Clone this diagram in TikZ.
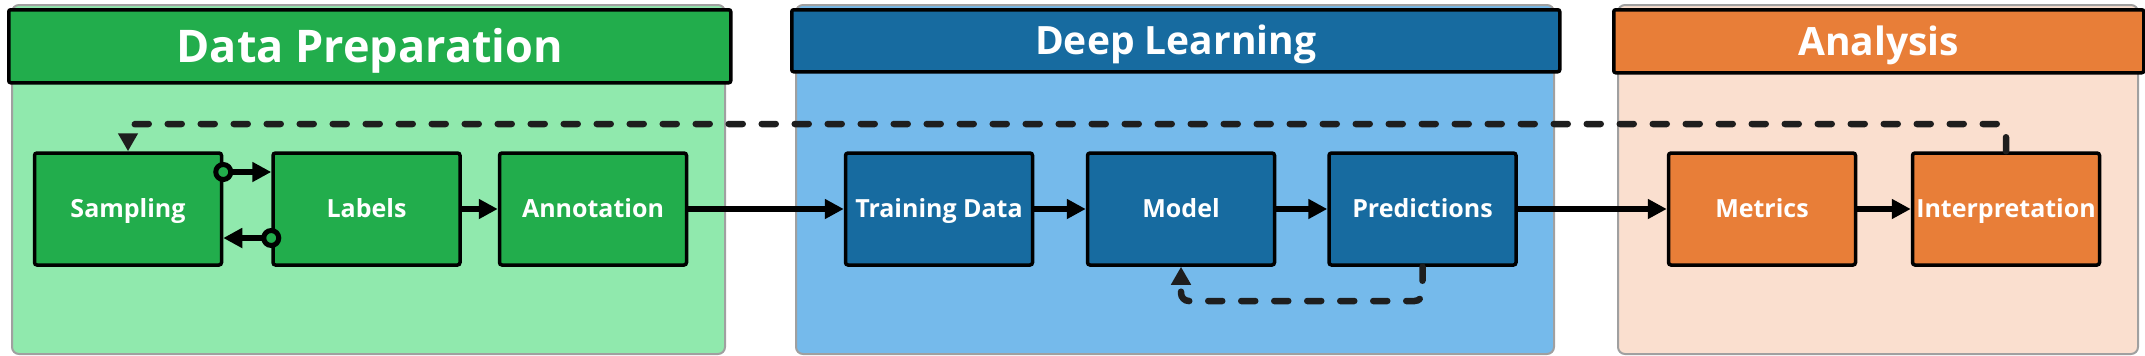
\documentclass[tikz,border=0pt]{standalone}
\usepackage{fontspec}
\setmainfont{Open Sans}
\usetikzlibrary{arrows.meta,calc}
\definecolor{dpdark}{HTML}{22AD4C}
\definecolor{dplight}{HTML}{90E9AD}
\definecolor{dldark}{HTML}{176BA0}
\definecolor{dllight}{HTML}{75BAEB}
\definecolor{andark}{HTML}{E87E38}
\definecolor{anlight}{HTML}{FADFCF}
\definecolor{panelline}{HTML}{A0A0A0}
\definecolor{ink}{HTML}{1E1E1E}
\begin{document}
\begin{tikzpicture}[x=1pt,y=-1pt,
  panel/.style={draw=panelline, line width=2pt, rounded corners=7pt, inner sep=0pt, anchor=north west},
  header/.style={draw=black, line width=3.5pt, rounded corners=2pt, inner sep=0pt, anchor=north west, text=white, text depth=0pt},
  bigtitle/.style={font=\fontsize{45}{50}\bfseries\selectfont, text height=32pt},
  title/.style={font=\fontsize{39}{44}\bfseries\selectfont, text height=27.8pt},
  stepbox/.style={draw=black, line width=3.5pt, rounded corners=2.5pt, inner sep=0pt, minimum width=187pt, minimum height=112pt, text=white, font=\fontsize{25}{28}\bfseries\selectfont, text height=17.8pt, text depth=0pt},
  flow/.style={draw=black, line width=6.5pt, -{Triangle[length=19pt,width=19pt]}},
  ring/.style={{Circle[open,fill=#1,length=20pt,width=20pt,line width=5pt]}-{Triangle[length=19pt,width=19pt]}, shorten <=-10pt},
  fb/.style={draw=ink, line width=6.5pt, line cap=round, dash pattern=on 14pt off 19pt, rounded corners=8pt, -{Triangle[length=18pt,width=19pt]}}
]
\useasboundingbox (0,0) rectangle (2145,356);
% panels
\node[panel, fill=dplight, minimum width=713pt, minimum height=349pt] (dpbody) at (11,4) {};
\node[panel, fill=dllight, minimum width=758pt, minimum height=349pt] (dlbody) at (795,4) {};
\node[panel, fill=anlight, minimum width=520pt, minimum height=349pt] (anbody) at (1617,4) {};
% headers
\node[header, bigtitle, fill=dpdark, minimum width=722pt, minimum height=73pt] (dphead) at (7,8) {Data Preparation};
\node[header, title, fill=dldark, minimum width=768pt, minimum height=62pt] (dlhead) at (790,8) {Deep Learning};
\node[header, title, fill=andark, minimum width=530pt, minimum height=63pt] (anhead) at (1612,8) {Analysis};
% steps
\node[stepbox, fill=dpdark] (sam) at (128,209) {Sampling};
\node[stepbox, fill=dpdark] (lab) at (366.5,209) {Labels};
\node[stepbox, fill=dpdark] (ann) at (593,209) {Annotation};
\node[stepbox, fill=dldark] (td) at (939,209) {Training Data};
\node[stepbox, fill=dldark] (mod) at (1181,209) {Model};
\node[stepbox, fill=dldark] (pred) at (1422.5,209) {Predictions};
\node[stepbox, fill=andark] (met) at (1762,209) {Metrics};
\node[stepbox, fill=andark] (interp) at (2006,209) {Interpretation};
% helper coordinates
\coordinate (upy) at (0,172);
\coordinate (dny) at (0,238);
\coordinate (loopy) at (0,301);
\coordinate (topy) at (0,124);
% connectors
\draw[flow, ring=dpdark] (sam.east |- upy) -- (lab.west |- upy);
\draw[flow, ring=dpdark] (lab.west |- dny) -- (sam.east |- dny);
\draw[flow] (lab.east) -- (ann.west);
\draw[flow] (ann.east) -- (td.west);
\draw[flow] (td.east) -- (mod.west);
\draw[flow] (mod.east) -- (pred.west);
\draw[flow] (pred.east) -- (met.west);
\draw[flow] (met.east) -- (interp.west);
\draw[fb] (pred.south) -- (pred.south |- loopy) -| (mod.south);
\draw[fb] (interp.north) -- (interp.north |- topy) -| (sam.north);
\end{tikzpicture}
\end{document}
